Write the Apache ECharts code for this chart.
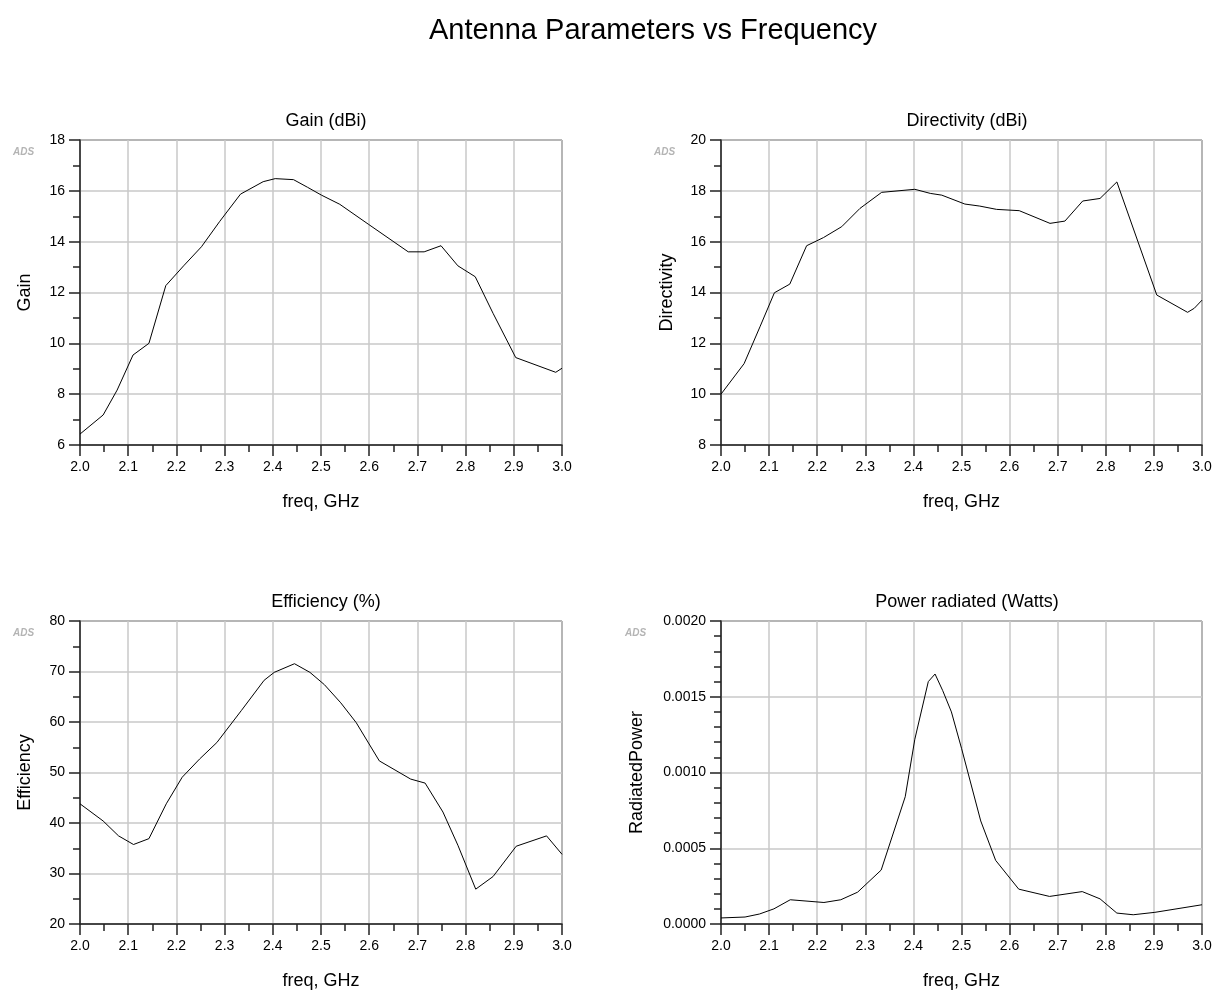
<!DOCTYPE html>
<html>
<head>
<meta charset="utf-8">
<script src="https://cdn.jsdelivr.net/npm/echarts@6/dist/echarts.min.js"></script>
<style>
html,body{margin:0;padding:0;background:#fff;}
#c{width:1215px;height:991px;}
</style>
</head>
<body>
<div id="c"></div>
<script>
// ---- data ----
var gainFreq = [2.0, 2.048, 2.077, 2.11, 2.143, 2.178, 2.215, 2.252, 2.29, 2.333, 2.38, 2.405, 2.443, 2.472, 2.501, 2.539, 2.598, 2.681, 2.714, 2.749, 2.784, 2.82, 2.857, 2.904, 2.987, 3.0];
var gainVals = [6.43, 7.18, 8.16, 9.54, 10.0, 12.27, 13.05, 13.8, 14.8, 15.87, 16.36, 16.48, 16.44, 16.14, 15.83, 15.47, 14.69, 13.6, 13.6, 13.84, 13.05, 12.62, 11.18, 9.44, 8.86, 9.02];

var dirFreq = [2.0, 2.048, 2.081, 2.111, 2.143, 2.178, 2.213, 2.251, 2.289, 2.334, 2.403, 2.435, 2.459, 2.507, 2.538, 2.573, 2.62, 2.684, 2.715, 2.752, 2.788, 2.823, 2.906, 2.97, 2.984, 3.0];
var dirVals = [10.0, 11.2, 12.65, 13.99, 14.33, 15.84, 16.16, 16.59, 17.31, 17.94, 18.06, 17.9, 17.83, 17.48, 17.4, 17.27, 17.22, 16.72, 16.81, 17.6, 17.7, 18.35, 13.9, 13.22, 13.38, 13.7];

var effFreq = [2.0, 2.048, 2.08, 2.111, 2.143, 2.179, 2.212, 2.248, 2.284, 2.335, 2.382, 2.403, 2.445, 2.477, 2.507, 2.541, 2.573, 2.621, 2.686, 2.716, 2.753, 2.784, 2.821, 2.857, 2.905, 2.968, 3.0];
var effVals = [43.8, 40.4, 37.45, 35.74, 36.9, 43.8, 49.06, 52.66, 55.94, 62.3, 68.26, 69.83, 71.54, 69.83, 67.4, 63.8, 59.88, 52.3, 48.7, 47.9, 42.17, 35.6, 26.9, 29.4, 35.4, 37.45, 33.8];

var powFreq = [2.0, 2.05, 2.08, 2.11, 2.144, 2.214, 2.249, 2.284, 2.333, 2.383, 2.403, 2.431, 2.445, 2.461, 2.479, 2.50, 2.54, 2.571, 2.619, 2.683, 2.751, 2.788, 2.823, 2.857, 2.902, 3.0];
var powVals = [0.00004, 0.000046, 0.000066, 0.0001, 0.00016, 0.000142, 0.00016, 0.00021, 0.000356, 0.00084, 0.00122, 0.0016, 0.00165, 0.00154, 0.0014, 0.00116, 0.00068, 0.00042, 0.00023, 0.000182, 0.000214, 0.000166, 0.000072, 0.000061, 0.000077, 0.000127];

var xTickFmt = function(v){ return v.toFixed(1); };
var plotTitles = ['Gain (dBi)', 'Directivity (dBi)', 'Efficiency (%)', 'Power radiated (Watts)'];
var yNames = ['Gain', 'Directivity', 'Efficiency', 'RadiatedPower'];

function pairs(xs, ys){ return xs.map(function(x,i){ return [x, ys[i]]; }); }

var FONT = '"Liberation Sans", Arial, sans-serif';
var grids = [
  {left:80, top:140, width:482, height:305},
  {left:721, top:140, width:481, height:305},
  {left:80, top:621, width:482, height:305},
  {left:721, top:621, width:481, height:305}
];
grids.forEach(function(g){ g.show = true; g.borderColor = '#000'; g.borderWidth = 1; g.backgroundColor = 'transparent'; });

function xAxis(i){
  return {
    type:'value', gridIndex:i, min:2, max:3, interval:0.1,
    name:'freq, GHz', nameLocation:'middle', nameGap:48,
    nameTextStyle:{color:'#000', fontSize:18, fontFamily:FONT},
    axisLine:{show:true, onZero:false, lineStyle:{color:'#222', width:1.5}},
    axisTick:{show:true, inside:false, length:11, lineStyle:{color:'#222', width:1.5}},
    minorTick:{show:true, splitNumber:2, length:7, lineStyle:{color:'#222', width:1.5}},
    splitLine:{show:true, lineStyle:{color:'#c8c8c8', width:1.5}},
    axisLabel:{color:'#000', fontSize:14, fontFamily:FONT, margin:15, formatter:xTickFmt}
  };
}
function yAxis(i, min, max, interval, minorSplit, fmt, gap){
  return {
    type:'value', gridIndex:i, min:min, max:max, interval:interval,
    name:yNames[i], nameLocation:'middle', nameGap:gap,
    nameTextStyle:{color:'#000', fontSize:18, fontFamily:FONT},
    axisLine:{show:true, onZero:false, lineStyle:{color:'#222', width:1.5}},
    axisTick:{show:true, inside:false, length:11, lineStyle:{color:'#222', width:1.5}},
    minorTick:{show:true, splitNumber:minorSplit, length:7, lineStyle:{color:'#222', width:1.5}},
    splitLine:{show:true, lineStyle:{color:'#c8c8c8', width:1.5}},
    axisLabel:{color:'#000', fontSize:14, fontFamily:FONT, margin:15, formatter:fmt}
  };
}
var intFmt = function(v){ return String(Math.round(v)); };
var powFmt = function(v){ return v.toFixed(4); };

var titles = [{
  text:'Antenna Parameters vs Frequency', left:648, top:11, textAlign:'center',
  textStyle:{color:'#000', fontSize:29, fontWeight:'normal', fontFamily:FONT}
}];
var centers = [321, 962, 321, 962];
var tops = [107, 107, 588, 588];
plotTitles.forEach(function(t,i){
  titles.push({text:t, left:centers[i], top:tops[i], textAlign:'center',
    textStyle:{color:'#000', fontSize:18, fontWeight:'normal', fontFamily:FONT}});
});

function logo(x,y){
  return {type:'text', left:x, top:y, style:{text:'ADS', fill:'#b4b4b4',
    font:'italic bold 10px ' + FONT, shadowBlur:1.5, shadowColor:'rgba(120,120,120,0.6)'}};
}

function lineSeries(i, data){
  return {type:'line', xAxisIndex:i, yAxisIndex:i, data:data, showSymbol:false, symbol:'none',
    lineStyle:{color:'#000', width:1}, animation:false, silent:true, clip:true};
}

var option = {
  animation:false,
  backgroundColor:'#fff',
  title:titles,
  grid:grids,
  xAxis:[xAxis(0), xAxis(1), xAxis(2), xAxis(3)],
  yAxis:[
    yAxis(0, 6, 18, 2, 2, intFmt, 46),
    yAxis(1, 8, 20, 2, 2, intFmt, 45),
    yAxis(2, 20, 80, 10, 2, intFmt, 46),
    yAxis(3, 0, 0.002, 0.0005, 5, powFmt, 75)
  ],
  graphic:[logo(13,147), logo(654,147), logo(13,628), logo(625,628)],
  series:[
    lineSeries(0, pairs(gainFreq, gainVals)),
    lineSeries(1, pairs(dirFreq, dirVals)),
    lineSeries(2, pairs(effFreq, effVals)),
    lineSeries(3, pairs(powFreq, powVals))
  ]
};
var chart = echarts.init(document.getElementById('c'), null, {renderer:'canvas'});
chart.setOption(option);
</script>
</body>
</html>
